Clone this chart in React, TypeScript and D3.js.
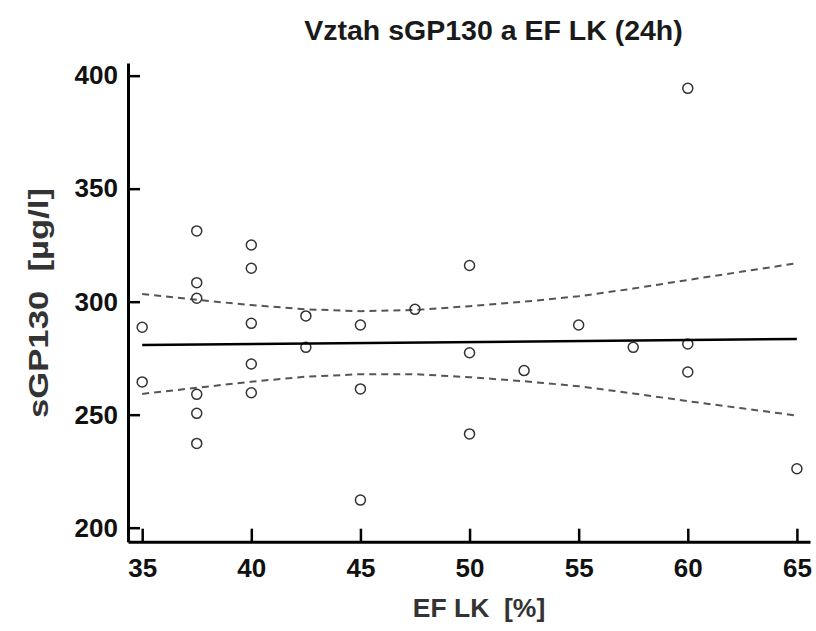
import React, { useEffect, useRef } from 'react';
import * as d3 from 'd3';

// EF LK [%] vs sGP130 [µg/l]
const efValues = [
  35, 35,
  37.5, 37.5, 37.5, 37.5, 37.5, 37.5,
  40, 40, 40, 40, 40,
  42.5, 42.5,
  45, 45, 45,
  47.5,
  50, 50, 50,
  52.5,
  55,
  57.5,
  60, 60, 60,
  65,
];
const sgpValues = [
  288.7, 264.5,
  331.3, 308.4, 301.5, 259.0, 250.6, 237.3,
  325.1, 314.8, 290.4, 272.4, 259.7,
  293.7, 279.8,
  289.7, 261.4, 212.2,
  296.6,
  316.0, 277.4, 241.5,
  269.5,
  289.7,
  279.8,
  394.4, 281.3, 268.9,
  226.1,
];

// regresní přímka a 95% pás spolehlivosti
const fitX = [35, 65];
const fitY = [280.8, 283.5];
const bandX = [35, 37.5, 40, 42.5, 45, 47.5, 50, 52.5, 55, 57.5, 60, 62.5, 65];
const bandUpper = [303.4, 300.8, 298.5, 296.6, 295.8, 296.3, 298.0, 300.0, 302.4, 305.8, 309.6, 313.3, 317.0];
const bandLower = [259.2, 261.9, 264.6, 266.8, 267.9, 267.9, 266.6, 264.8, 262.6, 259.4, 256.0, 252.8, 249.6];

const xTicks = [35, 40, 45, 50, 55, 60, 65];
const yTicks = [200, 250, 300, 350, 400];

const title = 'Vztah sGP130 a EF LK (24h)';
const xLabel = 'EF LK  [%]';
const yLabel = 'sGP130  [µg/l]';

const W = 816;
const H = 631;
const FONT = '"Liberation Sans", Arial, Helvetica, sans-serif';

const App = () => {
  const svgRef = useRef(null);

  useEffect(() => {
    const svg = d3.select(svgRef.current);
    svg.selectAll('*').remove();

    // rozsah os je o kousek širší než ticky
    const x = d3.scaleLinear().domain([34.35, 65.6]).range([128, 810]);
    const y = d3.scaleLinear().domain([193.8, 405.6]).range([541.7, 63]);

    svg.append('rect').attr('width', W).attr('height', H).attr('fill', '#fff');

    // titulek
    svg.append('text')
      .attr('x', 493.5)
      .attr('y', 40)
      .attr('text-anchor', 'middle')
      .attr('font-family', FONT)
      .attr('font-weight', 'bold')
      .attr('font-size', 28.5)
      .attr('fill', '#1a1a1a')
      .text(title);

    // osa X
    const gx = svg.append('g')
      .attr('transform', `translate(0,${y.range()[0]})`)
      .call(d3.axisBottom(x).tickValues(xTicks).tickSize(-13).tickSizeOuter(0).tickPadding(17));
    gx.select('.domain').attr('stroke', '#000').attr('stroke-width', 3);
    gx.selectAll('.tick line').attr('stroke', '#000').attr('stroke-width', 2.5);
    gx.selectAll('.tick text')
      .attr('font-family', FONT)
      .attr('font-weight', 'bold')
      .attr('font-size', 26)
      .attr('fill', '#111');

    // osa Y
    const gy = svg.append('g')
      .attr('transform', `translate(${x.range()[0]},0)`)
      .call(d3.axisLeft(y).tickValues(yTicks).tickSize(-12).tickSizeOuter(0).tickPadding(10));
    gy.select('.domain').attr('stroke', '#000').attr('stroke-width', 3);
    gy.selectAll('.tick line').attr('stroke', '#000').attr('stroke-width', 2.5);
    gy.selectAll('.tick text')
      .attr('font-family', FONT)
      .attr('font-weight', 'bold')
      .attr('font-size', 26)
      .attr('fill', '#111');

    // popisky os
    svg.append('text')
      .attr('x', 479)
      .attr('y', 617)
      .attr('text-anchor', 'middle')
      .attr('font-family', FONT)
      .attr('font-weight', 'bold')
      .attr('font-size', 26.5)
      .attr('fill', '#333')
      .style('white-space', 'pre')
      .text(xLabel);

    svg.append('text')
      .attr('transform', 'translate(48,303) rotate(-90)')
      .attr('text-anchor', 'middle')
      .attr('font-family', FONT)
      .attr('font-weight', 'bold')
      .attr('font-size', 28)
      .attr('textLength', 230)
      .attr('lengthAdjust', 'spacingAndGlyphs')
      .attr('fill', '#333')
      .style('white-space', 'pre')
      .text(yLabel);

    // pás spolehlivosti
    const band = d3.line().x(d => x(d[0])).y(d => y(d[1]));
    [bandUpper, bandLower].forEach(vals => {
      svg.append('path')
        .datum(bandX.map((v, i) => [v, vals[i]]))
        .attr('d', band)
        .attr('fill', 'none')
        .attr('stroke', '#555')
        .attr('stroke-width', 2)
        .attr('stroke-dasharray', '7,5');
    });

    // body
    svg.append('g')
      .selectAll('circle')
      .data(efValues.map((v, i) => [v, sgpValues[i]]))
      .enter()
      .append('circle')
      .attr('cx', d => x(d[0]))
      .attr('cy', d => y(d[1]))
      .attr('r', 5)
      .attr('fill', 'none')
      .attr('stroke', '#333')
      .attr('stroke-width', 1.5);

    // regrese
    svg.append('path')
      .datum(fitX.map((v, i) => [v, fitY[i]]))
      .attr('d', band)
      .attr('fill', 'none')
      .attr('stroke', '#000')
      .attr('stroke-width', 2.5);
  }, []);

  return (
    <svg
      ref={svgRef}
      width={W}
      height={H}
      style={{ position: 'absolute', left: 0, top: 0, display: 'block' }}
    />
  );
};

export default App;
